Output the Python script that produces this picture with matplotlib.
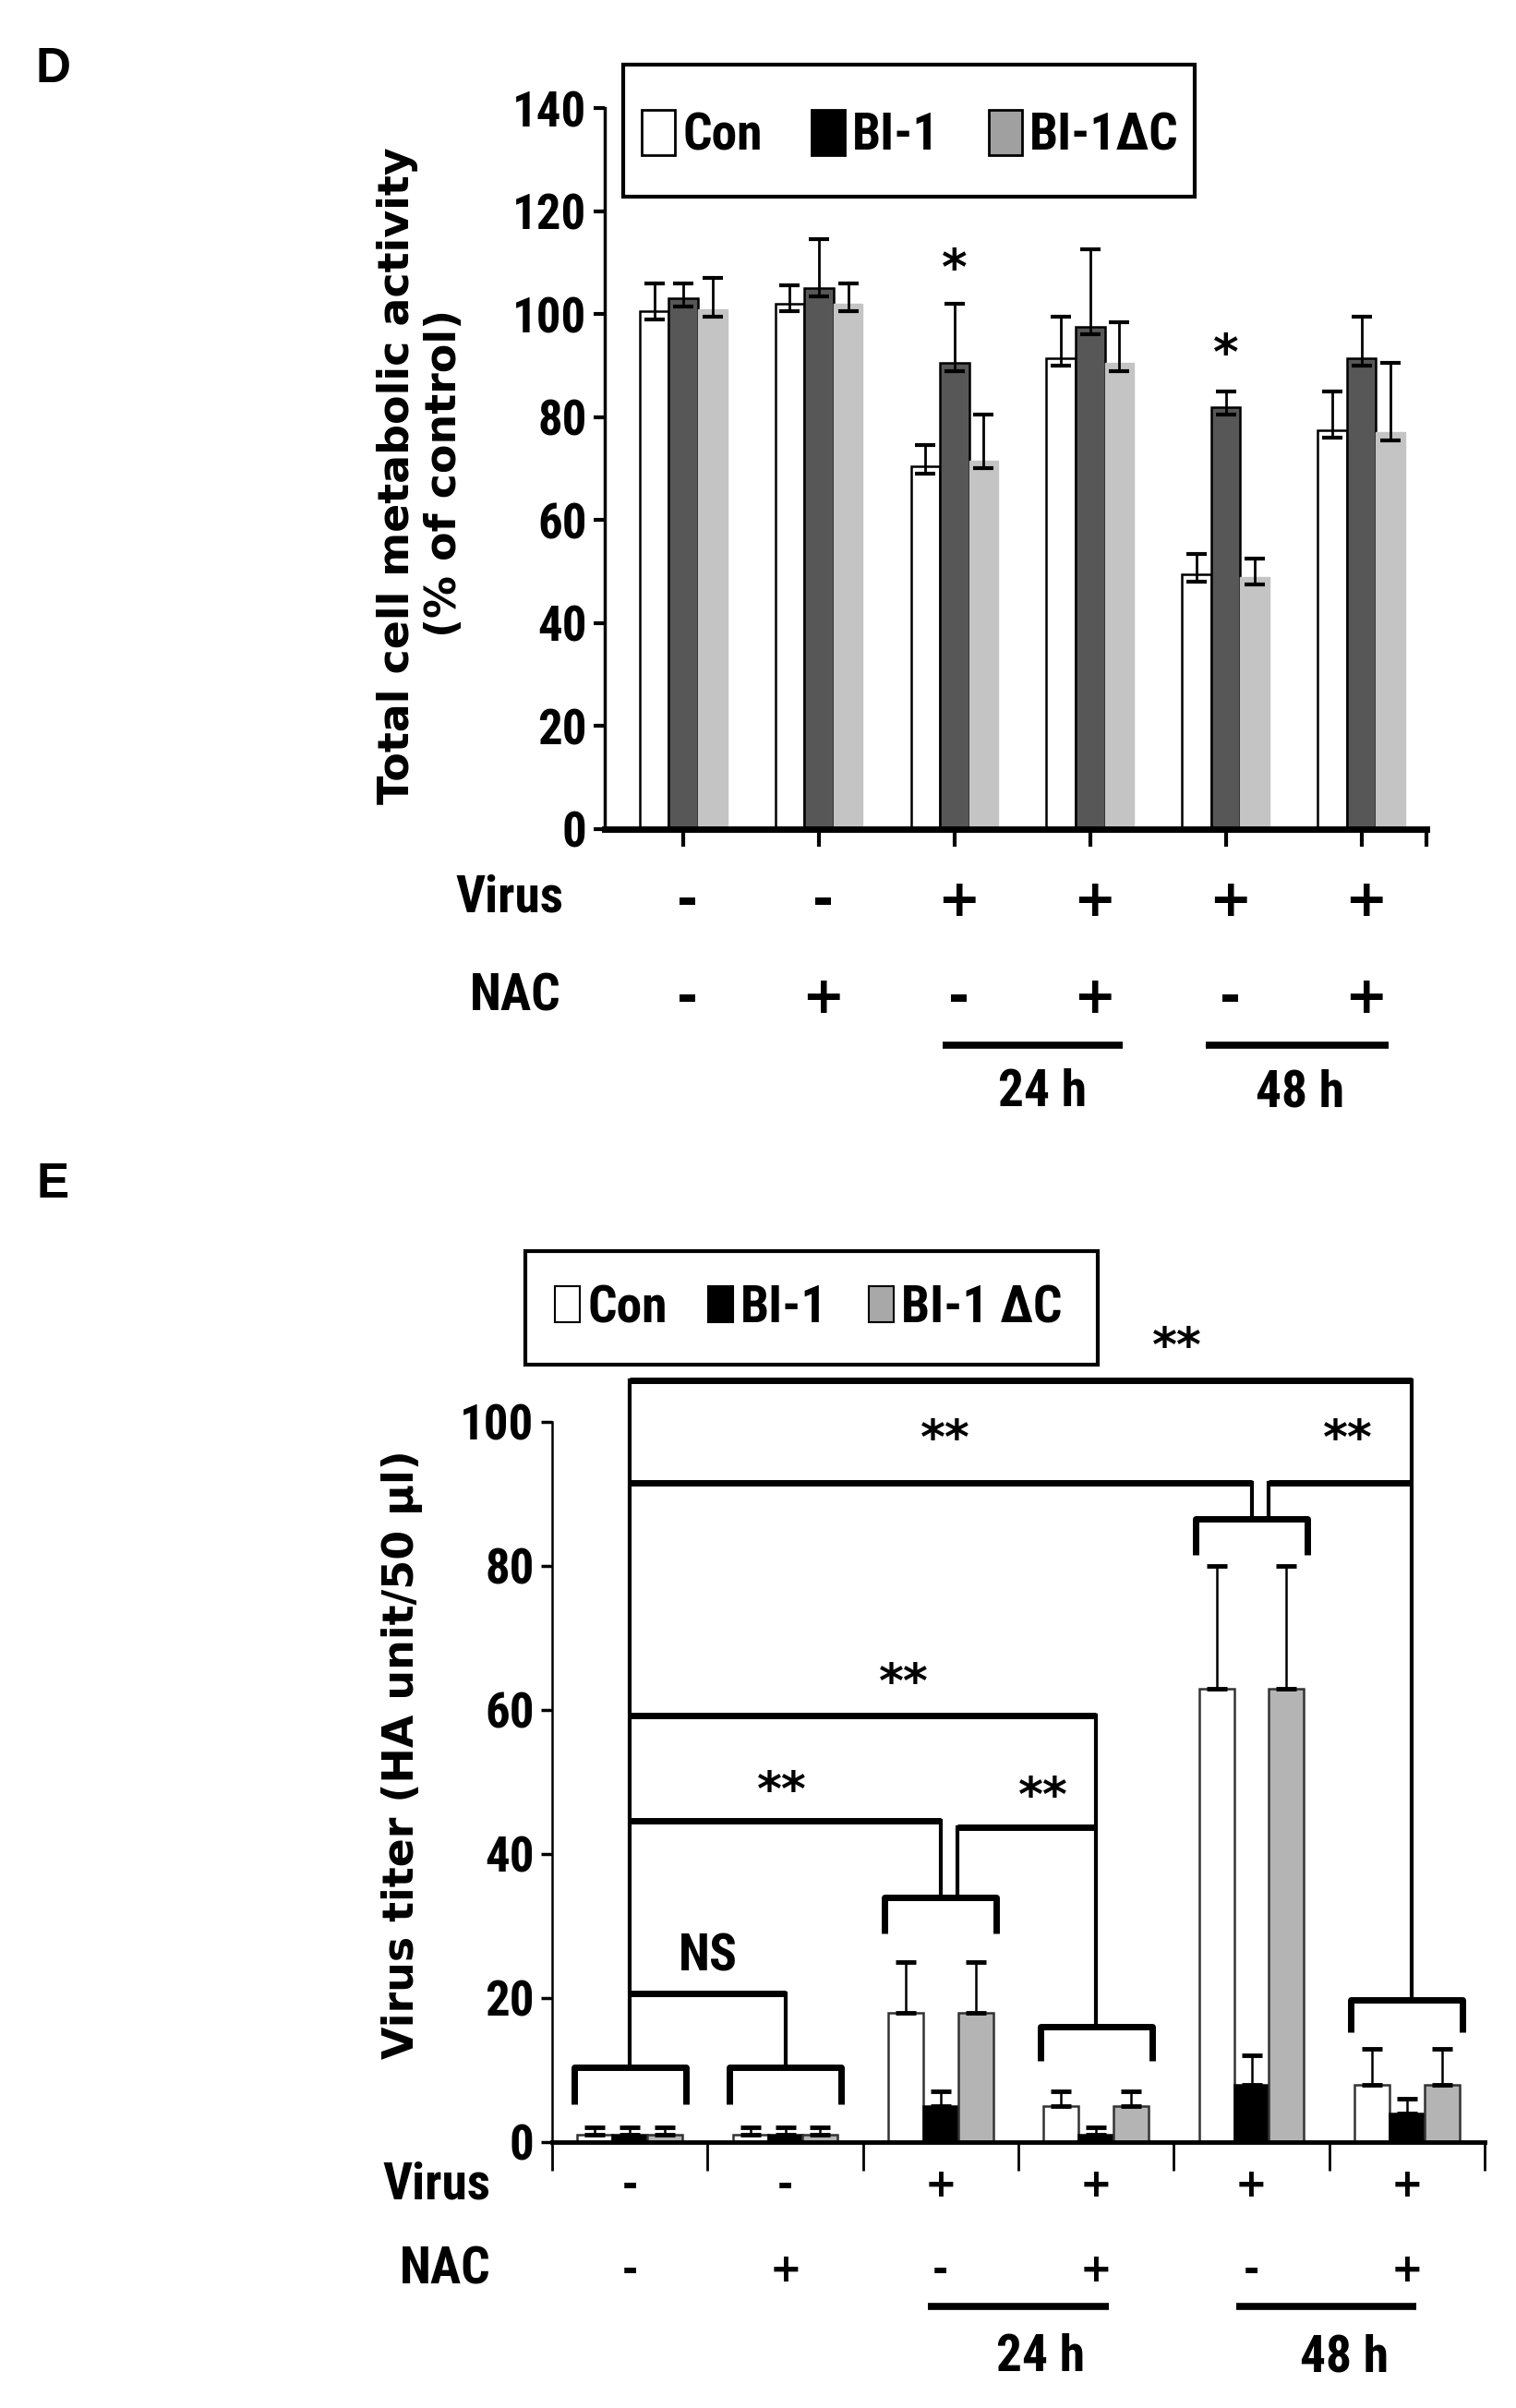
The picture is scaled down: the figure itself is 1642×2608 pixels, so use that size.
import numpy as np
import matplotlib
matplotlib.use("Agg")
import matplotlib.pyplot as plt
from matplotlib.patches import Patch, Rectangle

NARROW = ["Roboto Condensed", "DejaVu Sans"]
WIDE = ["DejaVu Sans"]

# ---- panel D data (total cell metabolic activity, % of control)
groups = np.arange(6)
virus_sign = ["-", "-", "+", "+", "+", "+"]
nac_sign = ["-", "+", "-", "+", "-", "+"]
d_con = [100.5, 102, 70.5, 91.5, 49.5, 77.5]
d_bi1 = [103, 105, 90.5, 97.5, 82, 91.5]
d_dc = [101, 102, 71.5, 90.5, 49, 77]
d_con_up = [5.5, 3.5, 4, 8, 4, 7.5]
d_bi1_up = [3, 9.5, 11.5, 15, 3, 8]
d_dc_up = [6, 4, 9, 8, 3.5, 13.5]
d_lo = [1.5, 1.5, 1.5, 1.5, 1.5, 1.5]
d_star_groups = [2, 4]
d_star_y = [108.5, 92]

# ---- panel E data (virus titer, HA unit/50 ul)
e_con = [1, 1, 18, 5, 63, 8]
e_bi1 = [1, 1, 5, 1, 8, 4]
e_dc = [1, 1, 18, 5, 63, 8]
e_con_up = [1, 1, 7, 2, 17, 5]
e_bi1_up = [1, 1, 2, 1, 4, 2]
e_dc_up = [1, 1, 7, 2, 17, 5]

W, H = 1642, 2608
fig = plt.figure(figsize=(W / 100, H / 100), dpi=100)


def fx(x):
    return x / W


def fy(y):
    return 1 - y / H


def bold(t, size, fam=NARROW):
    t.set_fontsize(size)
    t.set_fontweight("bold")
    t.set_family(fam)


def frame_box(x0, y0, x1, y1):
    # legend frame drawn in figure pixels (top-left origin)
    fig.patches.append(Rectangle((fx(x0), fy(y1)), (x1 - x0) / W, (y1 - y0) / H,
                                 transform=fig.transFigure, fill=False,
                                 edgecolor="black", linewidth=3, zorder=5))


# ================= panel D =================
axd = fig.add_axes([fx(655), fy(898), (1545 - 655) / W, (898 - 117) / H])
w = 0.215
axd.bar(groups - w, d_con, w, color="white", edgecolor="black", linewidth=1.8, zorder=2)
axd.bar(groups, d_bi1, w, color="#575757", edgecolor="black", linewidth=1.8, zorder=2)
axd.bar(groups + w, d_dc, w, color="#c4c4c4", edgecolor="#c4c4c4", linewidth=1, zorder=2)
for off, vals, up in [(-w, d_con, d_con_up), (0, d_bi1, d_bi1_up), (w, d_dc, d_dc_up)]:
    axd.errorbar(groups + off, vals, yerr=[d_lo, up], fmt="none", ecolor="black",
                 elinewidth=2, capsize=8, capthick=3, zorder=3)
for g, yv in zip(d_star_groups, d_star_y):
    axd.text(g, yv, "*", ha="center", va="center", fontsize=38, fontweight="bold", family=WIDE)

axd.set_xlim(-0.58, 5.48)
axd.set_ylim(0, 140)
axd.set_yticks(np.arange(0, 141, 20))
axd.set_xticks(list(groups) + [5.48])
axd.set_xticklabels([])
for s in ["top", "right"]:
    axd.spines[s].set_visible(False)
axd.spines["bottom"].set_linewidth(5)
axd.spines["left"].set_linewidth(2.5)
axd.tick_params(axis="x", direction="out", length=14, width=3)
axd.tick_params(axis="y", direction="out", length=9, width=3, pad=5)
for lab in axd.get_yticklabels():
    bold(lab, 38)

xt = axd.get_xaxis_transform()
bold(axd.text(-1.28, -0.095, "Virus", transform=xt, ha="center", va="center"), 40)
bold(axd.text(-1.24, -0.233, "NAC", transform=xt, ha="center", va="center"), 40)
for g, vs, ns in zip(groups, virus_sign, nac_sign):
    bold(axd.text(g + 0.03, -0.101, vs, transform=xt, ha="center", va="center"), 40, WIDE)
    bold(axd.text(g + 0.03, -0.236, ns, transform=xt, ha="center", va="center"), 40, WIDE)
for x0, x1, lab, xl in [(1.91, 3.24, "24 h", 2.65), (3.85, 5.2, "48 h", 4.55)]:
    axd.plot([x0, x1], [-0.300, -0.300], transform=xt, color="black", lw=5.5,
             clip_on=False, solid_capstyle="butt")
    bold(axd.text(xl, -0.365, lab, transform=xt, ha="center", va="center"), 40)

fig.text(fx(430), fy(515), "Total cell metabolic activity", rotation=90, ha="center",
         va="center", fontsize=33, fontweight="bold", family=WIDE)
fig.text(fx(481), fy(512), "(% of control)", rotation=90, ha="center",
         va="center", fontsize=33, fontweight="bold", family=WIDE)
fig.text(fx(57), fy(75), "D", ha="center", va="center", fontsize=38,
         fontweight="bold", family=["Liberation Sans", "DejaVu Sans"])

hd = [Patch(facecolor="white", edgecolor="black", lw=2),
      Patch(facecolor="black", edgecolor="black", lw=2),
      Patch(facecolor="#a0a0a0", edgecolor="black", lw=2)]
fig.legend(hd, ["Con", "BI-1", "BI-1\u0394C"], loc="center",
           bbox_to_anchor=(fx(986), fy(146)), ncol=3, frameon=False,
           handlelength=0.65, handleheight=1.0, handletextpad=0.15,
           columnspacing=0.95, borderpad=0, borderaxespad=0,
           prop={"family": NARROW, "weight": "bold", "size": 40})
frame_box(675, 70, 1294, 213)

# ================= panel E =================
axe = fig.add_axes([fx(598), fy(2320), (1608 - 598) / W, (2320 - 1540) / H])
we = 0.225
axe.bar(groups - we, e_con, we, color="white", edgecolor="#333333", linewidth=1.8, zorder=2)
axe.bar(groups, e_bi1, we, color="black", edgecolor="black", linewidth=1.8, zorder=2)
axe.bar(groups + we, e_dc, we, color="#b4b4b4", edgecolor="#333333", linewidth=1.8, zorder=2)
for off, vals, up in [(-we, e_con, e_con_up), (0, e_bi1, e_bi1_up), (we, e_dc, e_dc_up)]:
    axe.errorbar(groups + off, vals, yerr=[np.zeros(6), up], fmt="none", ecolor="black",
                 elinewidth=1.8, capsize=8, capthick=3.5, zorder=3)

axe.set_xlim(-0.5, 5.5)
axe.set_ylim(0, 100)
axe.set_yticks(np.arange(0, 101, 20))
axe.set_xticks(np.arange(-0.5, 5.6, 1.0))
axe.set_xticklabels([])
for s in ["top", "right"]:
    axe.spines[s].set_visible(False)
axe.spines["bottom"].set_linewidth(3.5)
axe.spines["left"].set_linewidth(1.8)
axe.tick_params(axis="x", direction="out", length=22, width=2)
axe.tick_params(axis="y", direction="out", length=9, width=2.5, pad=5)
for lab in axe.get_yticklabels():
    bold(lab, 38)

# significance brackets
bk = dict(color="black", lw=5, clip_on=False, solid_capstyle="butt", zorder=4)
st = dict(color="black", lw=3, clip_on=False, zorder=4)
grp_top = [10.4, 10.4, 34, 16, 86.5, 19.8]
grp_leg = [5.3, 5.3, 29, 11.3, 81.5, 15.3]
for g, t, l in zip(groups, grp_top, grp_leg):
    axe.plot([g - 0.36, g - 0.36, g + 0.36, g + 0.36], [l, t, t, l], **bk)
# NS
axe.plot([0.0, 0.0], [10.4, 105.8], **st)
axe.plot([1.0, 1.0], [10.4, 20.7], **st)
axe.plot([0.0, 1.0], [20.7, 20.7], **bk)
# 24 h
axe.plot([0.0, 2.0], [44.6, 44.6], **bk)
axe.plot([2.0, 2.0], [34, 44.6], **st)
axe.plot([2.11, 2.11], [34, 43.7], **st)
axe.plot([2.11, 3.0], [43.7, 43.7], **bk)
axe.plot([3.0, 3.0], [16, 59.2], **st)
axe.plot([0.0, 3.0], [59.2, 59.2], **bk)
# 48 h
axe.plot([0.0, 4.0], [91.6, 91.6], **bk)
axe.plot([4.0, 4.0], [86.5, 91.6], **st)
axe.plot([4.11, 4.11], [86.5, 91.6], **st)
axe.plot([4.11, 5.03], [91.6, 91.6], **bk)
axe.plot([5.03, 5.03], [19.8, 105.8], **st)
axe.plot([0.0, 5.03], [105.8, 105.8], **bk)

stars_x = [0.98, 2.66, 1.76, 2.03, 4.62, 3.52]
stars_y = [48.6, 47.8, 63.6, 97.4, 97.4, 110.3]
for sx, sy in zip(stars_x, stars_y):
    axe.text(sx, sy, "**", ha="center", va="center", fontsize=37, fontweight="bold",
             family=WIDE, clip_on=False)
bold(axe.text(0.5, 25.7, "NS", ha="center", va="center"), 40)

xte = axe.get_xaxis_transform()
bold(axe.text(-1.24, -0.060, "Virus", transform=xte, ha="center", va="center"), 40)
bold(axe.text(-1.19, -0.178, "NAC", transform=xte, ha="center", va="center"), 40)
for g, vs, ns in zip(groups, virus_sign, nac_sign):
    bold(axe.text(g, -0.060, vs, transform=xte, ha="center", va="center"), 30, WIDE)
    bold(axe.text(g, -0.178, ns, transform=xte, ha="center", va="center"), 30, WIDE)
for x0, x1, lab, xl in [(1.92, 3.08, "24 h", 2.64), (3.9, 5.06, "48 h", 4.6)]:
    axe.plot([x0, x1], [-0.228, -0.228], transform=xte, color="black", lw=5.5,
             clip_on=False, solid_capstyle="butt")
    bold(axe.text(xl, -0.299, lab, transform=xte, ha="center", va="center"), 40)

fig.text(fx(435), fy(1900), "Virus titer (HA unit/50 \u00b5l)", rotation=90, ha="center",
         va="center", fontsize=33, fontweight="bold", family=WIDE)
fig.text(fx(57), fy(1283), "E", ha="center", va="center", fontsize=38,
         fontweight="bold", family=["Liberation Sans", "DejaVu Sans"])

he = [Patch(facecolor="white", edgecolor="black", lw=1.5),
      Patch(facecolor="black", edgecolor="black", lw=1.5),
      Patch(facecolor="#a8a8a8", edgecolor="black", lw=1.5)]
fig.legend(he, ["Con", "BI-1", "BI-1 \u0394C"], loc="center",
           bbox_to_anchor=(fx(876), fy(1417)), ncol=3, frameon=False,
           handlelength=0.48, handleheight=0.72, handletextpad=0.15,
           columnspacing=0.8, borderpad=0, borderaxespad=0,
           prop={"family": NARROW, "weight": "bold", "size": 40})
frame_box(569, 1355, 1189, 1478)

fig.savefig("out.png", dpi=100, facecolor="white")
